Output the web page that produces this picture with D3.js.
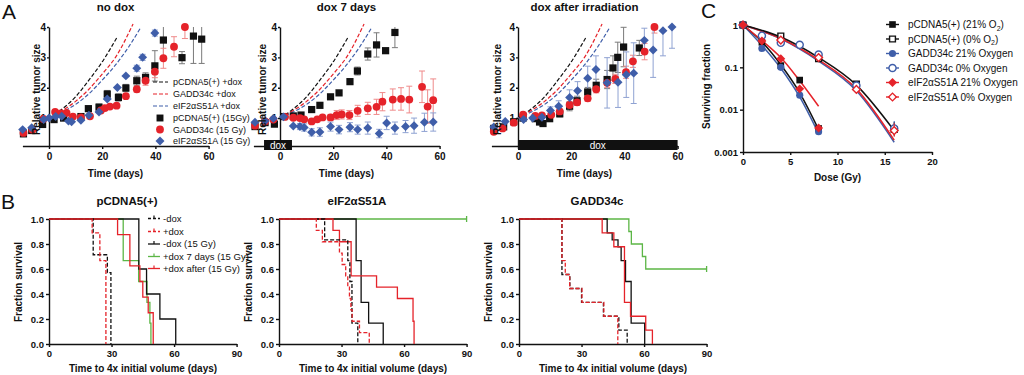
<!DOCTYPE html>
<html>
<head>
<meta charset="utf-8">
<script src="https://cdn.jsdelivr.net/npm/d3@7"></script>
<style>
  body { margin: 0; background: #fff; }
  svg { font-family: "Liberation Sans", Arial, sans-serif; }
  .tick text { font-weight: bold; fill: #111; }
  .domain, .tick line { stroke: #111; stroke-width: 1.4; }
</style>
</head>
<body>
<svg id="fig" width="1024" height="375"></svg>
<script>
// ---------- panel A data: [day, relative size, sem] ----------
var aTitles = ["no dox", "dox 7 days", "dox after irradiation"];

var a1Black = [[-9.6,0.48,0.04],[-6.5,0.59,0.04],[-2.4,0.79,0.04],[1.9,0.95,0.04],[5.5,1.0,0.05],[12,1.05,0.05],[14.8,1.31,0.06],[18.8,1.36,0.1],[21.9,1.79,0.12],[26.1,1.68,0.12],[28.9,1.99,0.12],[33,2.23,0.15],[36.3,2.34,0.15],[39.8,2.72,0.5],[43,3.57,0.65],[50,2.99,0.2],[54.3,3.7,0.9],[57.4,3.6,0.8]];
var a1Red = [[-9.6,0.51,0.03],[-6.3,0.62,0.03],[-2.1,0.97,0.03],[2.3,1.2,0.04],[4.5,1.15,0.04],[6.6,1.17,0.04],[9,1.05,0.04],[12,1.02,0.04],[15.4,1.06,0.05],[19.5,1.25,0.06],[21,1.33,0.06],[22.9,1.38,0.06],[25.4,1.41,0.06],[28.9,1.72,0.08],[33,1.95,0.1],[36.3,2.23,0.15],[39.8,2.53,0.2],[43,2.97,0.33],[47,3.35,0.33],[51.1,4.0,0.38]];
var a1Blue = [[-9.9,0.62,0.03],[-6.5,0.68,0.03],[-2,0.95,0.03],[0,1.0,0.03],[2.5,1.05,0.04],[4.8,1.06,0.04],[7.3,0.9,0.04],[8.5,0.88,0.04],[12,0.93,0.04],[15,1.09,0.05],[18.8,1.2,0.05],[21.9,1.63,0.06],[25.7,2.01,0.08],[28.9,2.39,0.08],[33,2.64,0.1],[35.2,3.0,0.1],[39.8,3.8,0.1]];

var a2Black = [[-9.4,0.72,0.04],[-5.6,0.85,0.04],[-2.1,0.8,0.04],[1.5,1.05,0.04],[5,1.07,0.05],[7.9,1.1,0.05],[11.9,1.28,0.06],[15,1.42,0.06],[19,1.7,0.08],[22.2,1.83,0.08],[26.3,2.2,0.08],[29.1,2.55,0.13],[33,3.11,0.2],[36.3,3.41,0.4],[39.7,3.22,0.05],[43.2,3.82,0.5]];
var a2Red = [[-9.4,0.75,0.04],[-5.6,0.89,0.04],[-2.5,0.95,0.04],[1.9,1.04,0.04],[5,1.01,0.05],[7.5,1.0,0.05],[9.1,0.96,0.06],[11.9,0.89,0.06],[14,0.96,0.08],[16,1.02,0.08],[19,1.02,0.1],[21.3,1.1,0.15],[23.2,1.12,0.15],[26.1,1.1,0.15],[29.2,1.24,0.18],[33,1.32,0.2],[36.3,1.37,0.25],[38.5,1.54,0.3],[42.4,1.61,0.35],[45.5,1.63,0.37],[48.6,1.61,0.44],[53.4,2.03,0.52],[55.5,1.38,0.55],[57.6,1.59,0.7]];
var a2Blue = [[-9.4,0.86,0.05],[-5.6,0.9,0.05],[-2.5,0.99,0.05],[1.3,1.04,0.05],[5,0.74,0.08],[7.5,0.72,0.1],[9.1,0.69,0.12],[11.9,0.53,0.12],[15,0.54,0.14],[19,0.72,0.15],[22.2,0.62,0.14],[26.3,0.7,0.15],[29.2,0.62,0.15],[33,0.67,0.2],[37.3,0.49,0.14],[40.1,0.84,0.22],[43.2,0.67,0.2],[47.2,0.72,0.2],[50.4,0.75,0.25],[54.3,0.86,0.3],[57.6,0.87,0.3]];

var a3Black = [[-9.1,0.66,0.04],[-5.4,0.71,0.04],[-1.6,0.88,0.04],[1.9,1.0,0.05],[6.5,0.98,0.06],[8.1,0.87,0.06],[9.4,0.82,0.06],[11.9,0.98,0.08],[15.7,1.14,0.1],[19.4,1.39,0.15],[22.2,1.57,0.15],[26.2,1.86,0.15],[29.4,2.08,0.2],[33.5,2.27,0.3],[35.7,2.65,0.4],[37.5,3.0,0.5],[39.7,3.34,0.65],[45.6,3.31,0.25]];
var a3Red = [[-9.1,0.55,0.03],[-5.8,0.66,0.03],[-1.6,0.85,0.03],[1.9,1.11,0.04],[6.5,1.07,0.05],[9,1.09,0.05],[12.5,1.11,0.06],[15.7,1.22,0.08],[19.4,1.43,0.1],[22.2,1.52,0.1],[26.2,1.65,0.1],[29.4,1.95,0.12],[33.5,2.16,0.15],[36.6,2.29,0.15],[40.6,2.51,0.2],[43.2,2.87,0.2],[47.6,3.19,0.27],[51.3,4.0,0.2]];
var a3Blue = [[-9.1,0.71,0.04],[-4.8,0.89,0.04],[2.1,0.95,0.05],[5.5,1.0,0.06],[9,1.03,0.08],[12.2,1.25,0.12],[15.3,1.39,0.18],[19.4,1.68,0.25],[22.4,1.9,0.3],[26.2,2.31,0.4],[29.3,2.6,0.45],[33.5,2.16,0.83],[37.6,2.18,0.83],[40.7,2.43,0.75],[43.5,2.48,1.0],[47.5,3.56,0.4],[50.8,3.24,0.9],[54.5,3.88,0.83],[57.9,4.0,0.7]];

// dashed growth curves (untreated +dox), [day, relative size]
var fitBlackDox = [[0,1],[5,1.3],[10,1.7],[15,2.25],[20,2.85],[25.5,3.65]];
var fitRedDox = [[0,1],[5,1.25],[10,1.55],[15,1.95],[20,2.45],[25,3.0],[31.6,4.1]];
var fitBlueDox = [[0,1],[5,1.2],[10,1.45],[15,1.8],[20,2.25],[25,2.75],[30,3.35],[34.6,4.0]];

// dox bars [start day, end day]
var doxBars = [null, [-6, 4.5], [0, 60]];

var aLegend = ["pCDNA5(+) +dox", "GADD34c +dox", "eIF2\u03b1S51A +dox", "pCDNA5(+) (15Gy)", "GADD34c (15 Gy)", "eIF2\u03b1S51A (15 Gy)"];
var aXTicks = [0, 20, 40, 60];
var aYTicks = [1, 2, 3, 4];

// ---------- panel B data: Kaplan-Meier steps [day, fraction] ----------
var bTitles = ["pCDNA5(+)", "eIF2\u03b1S51A", "GADD34c"];
var bLegend = ["-dox", "+dox", "-dox (15 Gy)", "+dox 7 days (15 Gy)", "+dox after (15 Gy)"];

var b1NoDox = [[0,1],[21.2,0.714],[28,0.571],[29.7,0]];
var b1Dox = [[0,1],[20.7,0.889],[24.4,0.667],[27.3,0]];
var b1NoDoxIr = [[0,1],[43.1,0.6],[46.8,0.4],[53.2,0.2],[60.8,0]];
var b1Dox7Ir = [[0,1],[35.6,0.667],[43,0.5],[47,0.333],[48.4,0.167],[48.9,0]];
var b1DoxAfterIr = [[0,1],[32.9,0.875],[38.8,0.625],[43.6,0.5],[45,0.375],[47.6,0.25],[50,0]];

var b2NoDox = [[0,1],[21.9,0.833],[33,0.667],[34,0.5],[35,0.167],[37.8,0]];
var b2Dox = [[0,1],[17.9,0.909],[20.8,0.818],[29,0.727],[30.3,0.636],[32,0.545],[33,0.455],[33.8,0.364],[34.5,0.273],[35.1,0.182],[38.6,0.091],[43.3,0]];
var b2NoDoxIr = [[0,1],[37,0.667],[39.4,0.333],[43,0.167],[50,0]];
var b2Dox7Ir = [[0,1],[90,1]];
var b2DoxAfterIr = [[0,1],[25.9,0.909],[29,0.818],[34.6,0.545],[46.8,0.455],[56.8,0.364],[64.3,0.182],[64.8,0]];

var b3NoDox = [[0,1],[20.6,0.556],[24.4,0.444],[30,0.333],[40.5,0.222],[47.9,0.111],[51.9,0]];
var b3Dox = [[0,1],[20.6,0.667],[22.2,0.556],[24.3,0.444],[30.2,0.333],[40.7,0.222],[47.4,0]];
var b3NoDoxIr = [[0,1],[42.3,0.889],[44.7,0.833],[47.5,0.778],[49,0.667],[51.1,0.5],[53.8,0.167],[60.3,0]];
var b3Dox7Ir = [[0,1],[52.7,0.9],[53.9,0.8],[59.2,0.7],[60.8,0.6],[90,0.6]];
var b3DoxAfterIr = [[0,1],[39.9,0.889],[45.5,0.778],[50.6,0.333],[53.5,0.222],[60.8,0.111],[64,0]];

var bXTicks = [0, 30, 60, 90];
var bYTicks = [0, 0.2, 0.4, 0.6, 0.8, 1.0];

// ---------- panel C data: [dose Gy, surviving fraction] ----------
var cLegend = ["pCDNA5(+) (21% O", "pCDNA5(+) (0% O", "GADD34c 21% Oxygen", "GADD34c 0% Oxygen", "eIF2\u03b1S51A 21% Oxygen", "eIF2\u03b1S51A 0% Oxygen"];
var cBlack21 = [[0,1],[2,0.39],[4,0.11],[6,0.05],[8,0.0036]];
var cBlack0 = [[0,1],[4,0.55],[8,0.16],[12,0.04],[16,0.0034]];
var cBlue21 = [[0,1],[2,0.28],[4,0.1],[6,0.022],[8,0.003]];
var cBlue0 = [[0,1],[2,0.56],[4,0.38],[6,0.34],[8,0.2],[12,0.037],[16,0.0036]];
var cRed21 = [[0,1],[2,0.42],[4,0.16],[6,0.031],[8,0.0037]];
var cRed0 = [[0,1],[4,0.44],[8,0.17],[12,0.03],[16,0.0032]];

var fitBlack21 = [[0,1],[2,0.4],[4,0.115],[6,0.025],[8,0.0034]];
var fitBlue21 = [[0,1],[2,0.33],[4,0.095],[6,0.02],[8,0.0027]];
var fitRed21 = [[0,1],[2,0.43],[4,0.17],[6,0.048],[8,0.012]];
var fitBlack0 = [[0,1],[4,0.52],[8,0.17],[12,0.038],[16,0.0032]];
var fitRed0 = [[0,1],[4,0.48],[8,0.15],[12,0.031],[16,0.0019]];
var fitBlue0 = [[0,1],[4,0.47],[8,0.14],[12,0.028],[16,0.0017]];

var cXTicks = [0, 5, 10, 15, 20];
var cYTicks = [0.001, 0.01, 0.1, 1];

// ---------- drawing ----------
var svg = d3.select("#fig");
var ink = "#111", red = "#e5232a", blue = "#3f5ea9", green = "#5cb646";
var redErr = "#ef8a8a", blueErr = "#8fa2d2", blackErr = "#7a7a7a";

function mark(g, type, cx, cy, col, filled, size) {
  var sym = type === "circle" ? d3.symbolCircle : d3.symbolSquare;
  var rot = type === "diamond" ? 45 : 0;
  g.append("path")
    .attr("d", d3.symbol().type(sym).size(size)())
    .attr("transform", `translate(${cx},${cy}) rotate(${rot})`)
    .attr("fill", filled ? col : "#fff")
    .attr("stroke", col)
    .attr("stroke-width", filled ? 0 : 1.4);
}

function styleAxis(ax, size) {
  ax.selectAll(".tick text").style("font-size", size + "px");
}

function label(text, x, y, size, weight, anchor, rotate) {
  var t = svg.append("text")
    .attr("x", x).attr("y", y)
    .attr("font-size", size)
    .attr("font-weight", weight)
    .attr("text-anchor", anchor)
    .attr("fill", ink)
    .text(text);
  if (rotate) t.attr("transform", `rotate(-90, ${x}, ${y})`);
  return t;
}

// panel A
var aAxisX = [49, 280, 518];
var aSets = [[a1Black, a1Red, a1Blue], [a2Black, a2Red, a2Blue], [a3Black, a3Red, a3Blue]];
var aTitleX = [40, 266, 501];

aAxisX.forEach(function(ox, i) {
  var x = d3.scaleLinear().domain([-10, 60]).range([ox - 26.6, ox + 159.6]);
  var y = d3.scaleLinear().domain([0.08, 4]).range([146, 27]);
  var g = svg.append("g");

  var xa = g.append("g").attr("transform", "translate(0,146)")
    .call(d3.axisBottom(x).tickValues(aXTicks).tickSize(3).tickPadding(4).tickSizeOuter(0));
  var ya = g.append("g").attr("transform", `translate(${ox},0)`)
    .call(d3.axisLeft(y).tickValues(aYTicks).tickFormat(d3.format("d")).tickSize(2).tickPadding(1).tickSizeOuter(0));
  styleAxis(xa, 10); styleAxis(ya, 10);

  // dashed growth curves
  var line = d3.line().x(d => x(d[0])).y(d => y(d[1])).curve(d3.curveMonotoneX);
  [[fitBlackDox, ink], [fitRedDox, red], [fitBlueDox, blue]].forEach(function(f) {
    g.append("path").datum(f[0]).attr("d", line)
      .attr("fill", "none").attr("stroke", f[1]).attr("stroke-width", 1.2)
      .attr("stroke-dasharray", "4,2");
  });

  // error bars then markers
  var sets = aSets[i];
  var specs = [[sets[0], ink, blackErr, "square", 52], [sets[1], red, redErr, "circle", 48], [sets[2], blue, blueErr, "diamond", 40]];
  specs.forEach(function(s) {
    s[0].forEach(function(d) {
      var hi = Math.min(d[1] + d[2], 4), lo = d[1] - d[2];
      if (d[2] < 0.09) return;
      g.append("line").attr("x1", x(d[0])).attr("x2", x(d[0]))
        .attr("y1", y(hi)).attr("y2", y(lo)).attr("stroke", s[2]).attr("stroke-width", 1);
      [hi, lo].forEach(function(v) {
        if (v === 4 && d[1] + d[2] > 4) return;
        g.append("line").attr("x1", x(d[0]) - 3).attr("x2", x(d[0]) + 3)
          .attr("y1", y(v)).attr("y2", y(v)).attr("stroke", s[2]).attr("stroke-width", 1);
      });
    });
  });
  specs.forEach(function(s) {
    s[0].forEach(function(d) { mark(g, s[3], x(d[0]), y(d[1]), s[1], true, s[4]); });
  });

  // dox bar
  if (doxBars[i]) {
    var b = doxBars[i];
    g.append("rect").attr("x", x(b[0])).attr("y", 140)
      .attr("width", x(b[1]) - x(b[0])).attr("height", 10).attr("fill", ink);
    g.append("text").attr("x", (x(b[0]) + x(b[1])) / 2).attr("y", 148.5)
      .attr("text-anchor", "middle").attr("font-size", 10).attr("fill", "#fff").text("dox");
  }

  label(aTitles[i], (x(-10) + x(60)) / 2, 11, 11.5, "bold", "middle");
  label("Time (days)", (x(-10) + x(60)) / 2, 177, 10, "bold", "middle");
  label("Relative tumor size", aTitleX[i], 88 + 47, 10, "bold", "start", true);
});

// panel A legend
var aLegY = [82, 94, 106, 118, 129.5, 141];
var aLegCols = [ink, red, blue, ink, red, blue];
var aLegMarks = ["square", "circle", "diamond"];
aLegend.forEach(function(t, k) {
  if (k < 3) {
    svg.append("line").attr("x1", 153).attr("x2", 168).attr("y1", aLegY[k]).attr("y2", aLegY[k])
      .attr("stroke", aLegCols[k]).attr("stroke-width", 1.2).attr("stroke-dasharray", "4,2");
  } else {
    mark(svg, aLegMarks[k - 3], 160, aLegY[k], aLegCols[k], true, k === 5 ? 40 : 48);
  }
  svg.append("text").attr("x", 173).attr("y", aLegY[k] + 3.2).attr("font-size", 9)
    .attr("fill", ink).text(t);
});

// panel B
var bAxisX = [49, 279, 519];
var bSets = [
  [b1NoDox, b1Dox, b1NoDoxIr, b1Dox7Ir, b1DoxAfterIr],
  [b2NoDox, b2Dox, b2NoDoxIr, b2Dox7Ir, b2DoxAfterIr],
  [b3NoDox, b3Dox, b3NoDoxIr, b3Dox7Ir, b3DoxAfterIr]
];
var bStyles = [[ink, "4,2"], [red, "4,2"], [ink, null], [green, null], [red, null]];

bAxisX.forEach(function(ox, i) {
  var x = d3.scaleLinear().domain([0, 90]).range([ox, ox + 187.6]);
  var y = d3.scaleLinear().domain([0, 1]).range([344, 219]);
  var g = svg.append("g");
  var xa = g.append("g").attr("transform", "translate(0,344)")
    .call(d3.axisBottom(x).tickValues(bXTicks).tickSize(3).tickPadding(3).tickSizeOuter(0));
  var ya = g.append("g").attr("transform", `translate(${ox},0)`)
    .call(d3.axisLeft(y).tickValues(bYTicks).tickFormat(d3.format(".1f")).tickSize(3).tickPadding(2).tickSizeOuter(0));
  styleAxis(xa, 9.5); styleAxis(ya, 9.5);

  var line = d3.line().x(d => x(d[0])).y(d => y(d[1])).curve(d3.curveStepAfter);
  // draw order: green, black solid, red solid, dashed on top
  [3, 2, 4, 0, 1].forEach(function(k) {
    var p = g.append("path").datum(bSets[i][k]).attr("d", line)
      .attr("fill", "none").attr("stroke", bStyles[k][0]).attr("stroke-width", 1.3);
    if (bStyles[k][1]) p.attr("stroke-dasharray", bStyles[k][1]);
  });
  // censor ticks at last point when curve stays above zero
  bSets[i].forEach(function(s, k) {
    var last = s[s.length - 1];
    if (last[1] > 0) {
      g.append("line").attr("x1", x(last[0])).attr("x2", x(last[0]))
        .attr("y1", y(last[1]) - 3).attr("y2", y(last[1]) + 3)
        .attr("stroke", bStyles[k][0]).attr("stroke-width", 1.3);
    }
  });

  label(bTitles[i], ox + 78, 205, 11.5, "bold", "middle");
  label("Time to 4x initial volume (days)", ox + 94, 372, 10, "bold", "middle");
  label("Fraction survival", ox - 27, 282 + 40, 10, "bold", "start", true);
});

// panel B legend
var bLegY = [218.5, 231.5, 244, 256.5, 268.5];
bLegend.forEach(function(t, k) {
  var l = svg.append("line").attr("x1", 148).attr("x2", 160).attr("y1", bLegY[k]).attr("y2", bLegY[k])
    .attr("stroke", bStyles[k][0]).attr("stroke-width", 1.3);
  if (bStyles[k][1]) l.attr("stroke-dasharray", "3,2");
  svg.append("line").attr("x1", 154).attr("x2", 154).attr("y1", bLegY[k] - 3).attr("y2", bLegY[k])
    .attr("stroke", bStyles[k][0]).attr("stroke-width", 1.2);
  svg.append("text").attr("x", 163).attr("y", bLegY[k] + 3.3).attr("font-size", 9.5)
    .attr("fill", ink).text(t);
});

// panel C
(function() {
  var x = d3.scaleLinear().domain([0, 20]).range([743, 932]);
  var y = d3.scaleLog().domain([0.001, 1]).range([152, 25]);
  var g = svg.append("g");
  var xa = g.append("g").attr("transform", "translate(0,152)")
    .call(d3.axisBottom(x).tickValues(cXTicks).tickSize(3).tickPadding(3).tickSizeOuter(0));
  var ya = g.append("g").attr("transform", "translate(743,0)")
    .call(d3.axisLeft(y).tickValues(cYTicks).tickFormat(d3.format("~g")).tickSize(3).tickPadding(2).tickSizeOuter(0));
  styleAxis(xa, 9.5); styleAxis(ya, 9.5);

  var line = d3.line().x(d => x(d[0])).y(d => y(d[1])).curve(d3.curveMonotoneX);
  [[fitBlue0, blue], [fitRed0, red], [fitBlack0, ink], [fitBlue21, blue], [fitBlack21, ink], [fitRed21, red]].forEach(function(f) {
    g.append("path").datum(f[0]).attr("d", line).attr("fill", "none")
      .attr("stroke", f[1]).attr("stroke-width", 1.5);
  });

  var cSpecs = [
    [cBlack0, ink, "square", false, 34], [cBlue0, blue, "circle", false, 40], [cRed0, red, "diamond", false, 30],
    [cBlack21, ink, "square", true, 44], [cBlue21, blue, "circle", true, 40], [cRed21, red, "diamond", true, 40]
  ];
  cSpecs.forEach(function(s) {
    s[0].forEach(function(d) {
      if (d[0] === 16) {
        g.append("line").attr("x1", x(d[0])).attr("x2", x(d[0]))
          .attr("y1", y(d[1] * 1.5)).attr("y2", y(d[1] / 1.4)).attr("stroke", s[1]).attr("stroke-width", 1);
      }
      mark(g, s[2], x(d[0]), y(d[1]), s[1], s[3], s[4]);
    });
  });

  label("Dose (Gy)", (x(0) + x(20)) / 2, 181, 10, "bold", "middle");
  label("Surviving fraction", 710, 86 + 43, 10, "bold", "start", true);

  // legend
  var cLegY = [24.5, 39, 53.5, 68, 82.5, 97];
  var cLegSpec = [[ink, "square", true, 44], [ink, "square", false, 34], [blue, "circle", true, 40], [blue, "circle", false, 40], [red, "diamond", true, 40], [red, "diamond", false, 30]];
  cLegend.forEach(function(t, k) {
    var c = cLegSpec[k];
    svg.append("line").attr("x1", 886).attr("x2", 899).attr("y1", cLegY[k]).attr("y2", cLegY[k])
      .attr("stroke", c[0]).attr("stroke-width", 1.4);
    mark(svg, c[1], 892.5, cLegY[k], c[0], c[2], c[3]);
    var tx = svg.append("text").attr("x", 908).attr("y", cLegY[k] + 3.5).attr("font-size", 10)
      .attr("fill", ink).text(t);
    if (k < 2) {
      tx.append("tspan").attr("font-size", 7).attr("dy", 2.5).text("2");
      tx.append("tspan").attr("dy", -2.5).text(")");
    }
  });
})();

// panel letters
label("A", 2, 19, 21, "normal", "start");
label("B", 1, 209, 21, "normal", "start");
label("C", 701, 18, 21, "normal", "start");
</script>
</body>
</html>
